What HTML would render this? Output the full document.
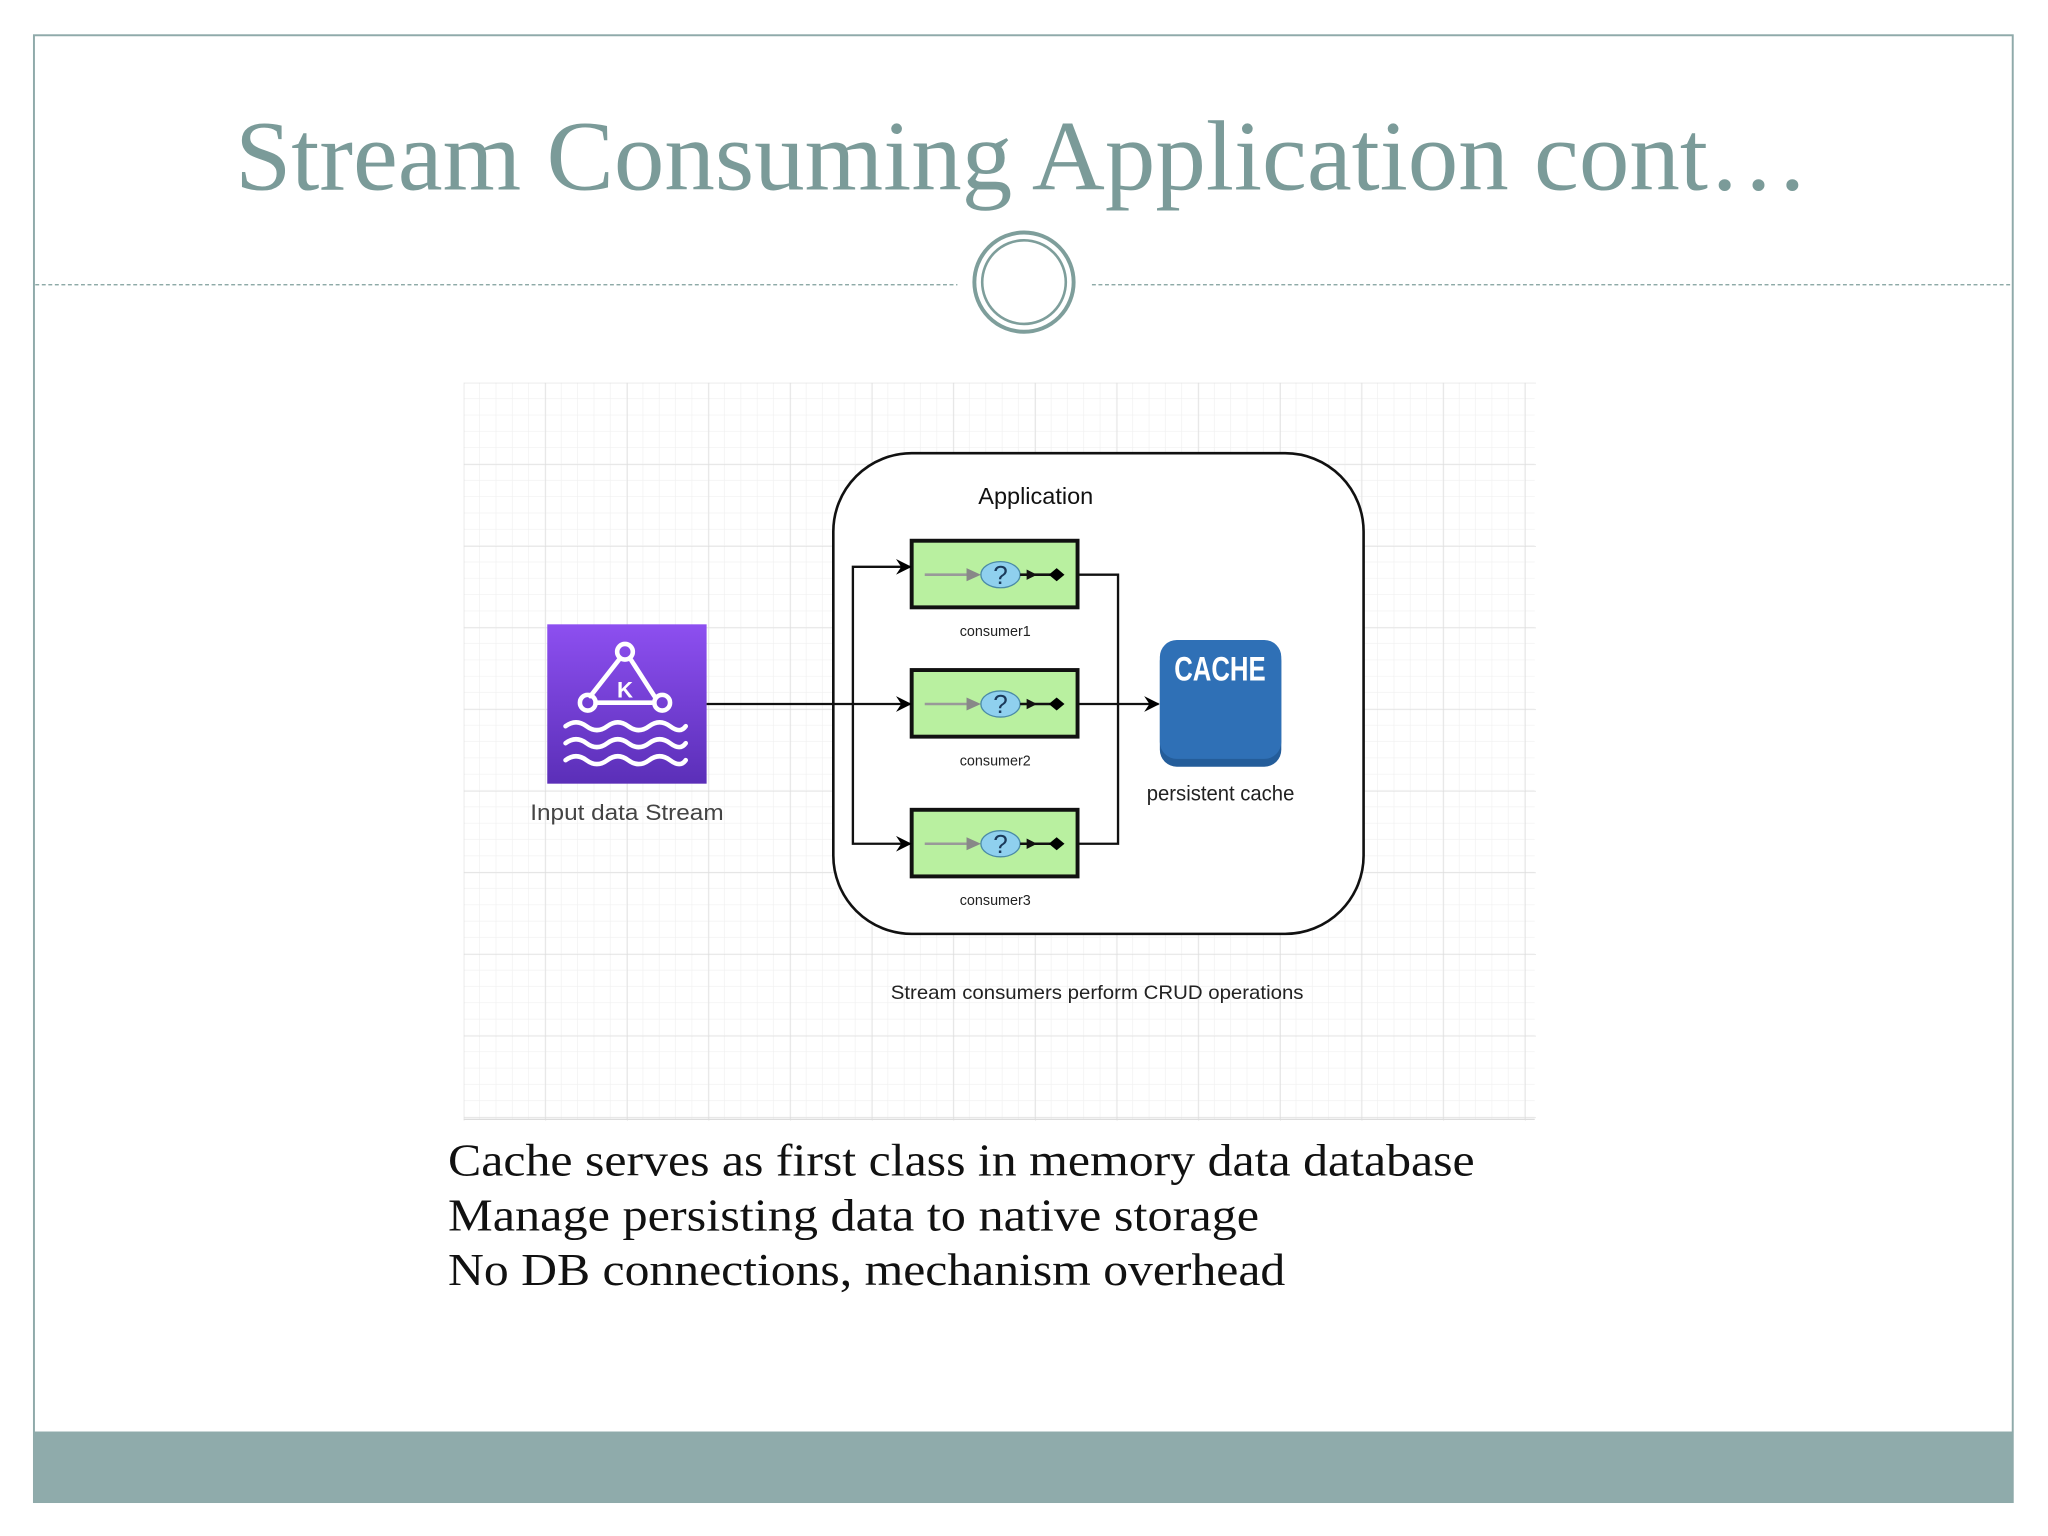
<!DOCTYPE html>
<html><head><meta charset="utf-8"><style>
html,body{margin:0;padding:0;background:#fff;width:2048px;height:1536px;overflow:hidden}
svg{display:block}
</style></head><body>
<svg width="2048" height="1536" viewBox="0 0 1568 1176" xmlns="http://www.w3.org/2000/svg">
<defs>
<pattern id="minor" width="12.5" height="12.5" patternUnits="userSpaceOnUse" x="355" y="293">
<path d="M12.5 0V12.5H0" fill="none" stroke="#f0f0f0" stroke-width="1"/>
</pattern>
<pattern id="major" width="62.5" height="62.5" patternUnits="userSpaceOnUse" x="355" y="293">
<path d="M0 0V62.5M0 0H62.5" fill="none" stroke="#dcdcdc" stroke-width="1"/>
</pattern>
<linearGradient id="kin" x1="0" y1="0" x2="0" y2="1">
<stop offset="0" stop-color="#8d4ff0"/><stop offset="1" stop-color="#5b2fb8"/>
</linearGradient>
<marker id="ar" markerWidth="12" markerHeight="12" refX="11" refY="6" orient="auto" markerUnits="userSpaceOnUse">
<path d="M0 0L12 6L0 12L4 6Z" fill="#000"/>
</marker>
<g id="cons">
<rect x="0" y="0" width="127" height="51" fill="#b9f0a0" stroke="#111" stroke-width="3"/>
<line x1="10" y1="26" x2="44" y2="26" stroke="#999" stroke-width="2"/>
<path d="M42 21L53 26L42 31Z" fill="#888"/>
<ellipse cx="68" cy="26" rx="15" ry="10" fill="#8fd0ee" stroke="#4a8aa6" stroke-width="1"/>
<text x="68" y="33" font-family="Liberation Sans,sans-serif" font-size="20" text-anchor="middle" fill="#1a3a5a">?</text>
<line x1="83" y1="26" x2="108" y2="26" stroke="#111" stroke-width="2"/>
<path d="M88 22L96 26L88 30Z" fill="#111"/>
<path d="M105 26L111 21L117 26L111 31Z" fill="#000"/>
</g>
</defs>
<rect x="26" y="27" width="1515" height="1123" fill="#fff" stroke="#8faaaa" stroke-width="1.5"/>
<text x="180" y="145" font-family="Liberation Serif,serif" font-size="76" fill="#7b9b99" textLength="1205" lengthAdjust="spacingAndGlyphs">Stream Consuming Application cont…</text>
<line x1="27" y1="218" x2="733" y2="218" stroke="#7e9e9b" stroke-width="1" stroke-dasharray="3,2"/>
<line x1="836" y1="218" x2="1540" y2="218" stroke="#7e9e9b" stroke-width="1" stroke-dasharray="3,2"/>
<circle cx="784" cy="216" r="38" fill="#fff" stroke="#7e9e9b" stroke-width="3"/>
<circle cx="784" cy="216" r="32" fill="none" stroke="#7e9e9b" stroke-width="2"/>
<rect x="355" y="293" width="820" height="564" fill="url(#minor)"/>
<rect x="355" y="293" width="821" height="565" fill="url(#major)"/>
<line x1="355" y1="857" x2="1175" y2="857" stroke="#dcdcdc"/>
<rect x="419" y="478" width="122" height="122" fill="url(#kin)"/>
<g stroke="#fff" stroke-width="3.5" fill="none" stroke-linecap="round">
<path d="M474 505L452 533M483 505L501 533M456 538H499"/>
<circle cx="478.5" cy="499" r="6"/>
<circle cx="450" cy="538" r="6"/>
<circle cx="507" cy="538" r="6"/>
<path d="M433 556q8-6 16 0t16 0t16 0t16 0t16 0t12 0"/>
<path d="M433 569q8-6 16 0t16 0t16 0t16 0t16 0t12 0"/>
<path d="M433 582q8-6 16 0t16 0t16 0t16 0t16 0t12 0"/>
</g>
<text x="478.5" y="534" font-family="Liberation Sans,sans-serif" font-weight="bold" font-size="17" fill="#fff" text-anchor="middle">K</text>
<text x="406" y="628" font-family="Liberation Sans,sans-serif" font-size="17" fill="#444" textLength="148" lengthAdjust="spacingAndGlyphs">Input data Stream</text>
<rect x="638" y="347" width="406" height="368" rx="60" fill="#fff" stroke="#111" stroke-width="2"/>
<text x="793" y="386" font-family="Liberation Sans,sans-serif" font-size="18" fill="#111" text-anchor="middle">Application</text>
<use href="#cons" x="698" y="414"/>
<use href="#cons" x="698" y="513"/>
<use href="#cons" x="698" y="620"/>
<g font-family="Liberation Sans,sans-serif" font-size="11" fill="#222" text-anchor="middle">
<text x="762" y="487">consumer1</text>
<text x="762" y="586">consumer2</text>
<text x="762" y="693">consumer3</text>
</g>
<g stroke="#111" stroke-width="1.8" fill="none">
<line x1="541" y1="539" x2="697" y2="539" marker-end="url(#ar)"/>
<path d="M653 539V434H697" marker-end="url(#ar)"/>
<path d="M653 539V646H697" marker-end="url(#ar)"/>
<path d="M826 440H856V646H826"/>
<line x1="826" y1="539" x2="887" y2="539" marker-end="url(#ar)"/>
</g>
<rect x="888" y="493" width="93" height="94" rx="13" fill="#245d9a"/>
<rect x="888" y="490" width="93" height="91" rx="13" fill="#2f70b6"/>
<text x="934" y="521" font-family="Liberation Sans Narrow,Liberation Sans,sans-serif" font-weight="bold" font-size="26" fill="#fff" text-anchor="middle" textLength="70" lengthAdjust="spacingAndGlyphs">CACHE</text>
<text x="878" y="613" font-family="Liberation Sans,sans-serif" font-size="16" fill="#222" textLength="113" lengthAdjust="spacingAndGlyphs">persistent cache</text>
<text x="682" y="765" font-family="Liberation Sans,sans-serif" font-size="15" fill="#222" textLength="316" lengthAdjust="spacingAndGlyphs">Stream consumers perform CRUD operations</text>
<g font-family="Liberation Serif,serif" font-size="35" fill="#111">
<text x="343" y="900" textLength="786" lengthAdjust="spacingAndGlyphs">Cache serves as first class in memory data database</text>
<text x="343" y="942" textLength="621" lengthAdjust="spacingAndGlyphs">Manage persisting data to native storage</text>
<text x="343" y="984" textLength="641" lengthAdjust="spacingAndGlyphs">No DB connections, mechanism overhead</text>
</g>
<rect x="26" y="1096" width="1515" height="54" fill="#8fabab"/>
</svg>
</body></html>
